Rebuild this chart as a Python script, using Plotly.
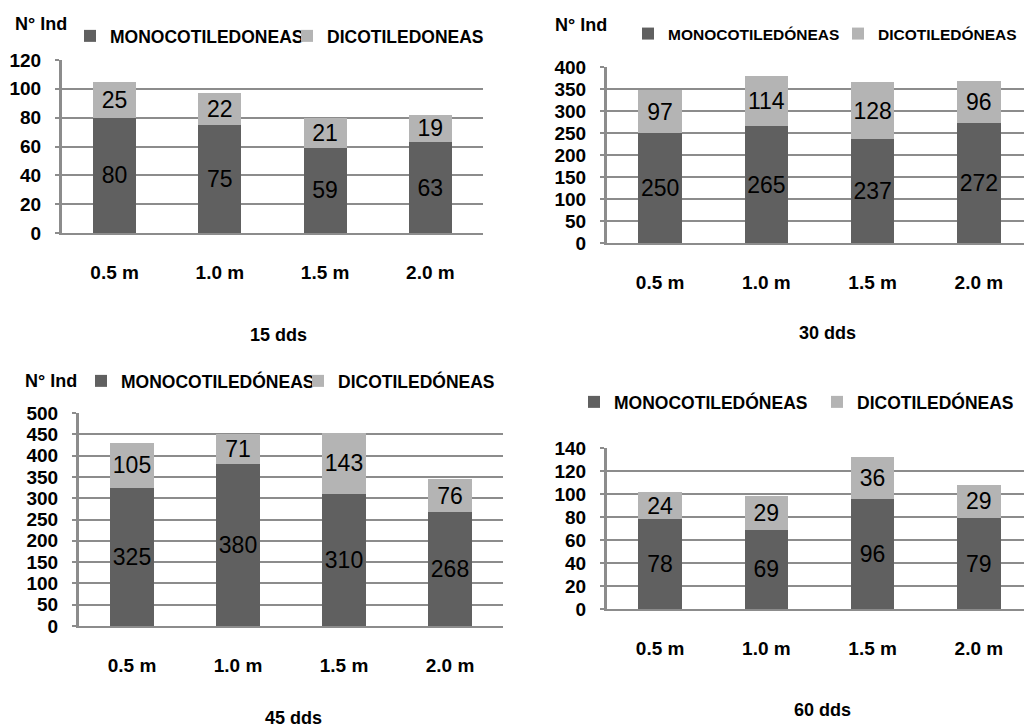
import plotly.graph_objects as go

categories = ["0.5 m", "1.0 m", "1.5 m", "2.0 m"]

mono_15 = [80, 75, 59, 63]
dico_15 = [25, 22, 21, 19]
mono_30 = [250, 265, 237, 272]
dico_30 = [97, 114, 128, 96]
mono_45 = [325, 380, 310, 268]
dico_45 = [105, 71, 143, 76]
mono_60 = [78, 69, 96, 79]
dico_60 = [24, 29, 36, 29]

panel_titles = ["15 dds", "30 dds", "45 dds", "60 dds"]
mono_names = ["MONOCOTILEDONEAS", "MONOCOTILEDÓNEAS", "MONOCOTILEDÓNEAS", "MONOCOTILEDÓNEAS"]
dico_names = ["DICOTILEDONEAS", "DICOTILEDÓNEAS", "DICOTILEDÓNEAS", "DICOTILEDÓNEAS"]
y_ranges = [[0, 120], [0, 400], [0, 500], [0, 140]]
y_dticks = [20, 50, 50, 20]

W, H = 1032, 726
OFF = 8  # page body margin offset
FONT = "Liberation Sans, Arial, sans-serif"
DARK = "#606060"
LIGHT = "#b4b4b4"
GRID = "#8c8c8c"

# plot areas in page pixels: (left, right, top, bottom)
boxes = [(62, 483, 60, 233), (607, 1032, 67, 243), (79, 503, 413, 626), (607, 1032, 448, 609)]
legend_pos = [(70, 36), (628, 34), (81, 381), (574, 402)]
legend_entry = [172, 165, 172, 198]
legend_font = [17.5, 15.5, 17.5, 17.5]
ylabel_pos = [(41, 24), (581, 25), (51, 381), None]
title_pos = [(278, 335), (827, 333), (293, 718), (822, 710)]

data = [(mono_15, dico_15), (mono_30, dico_30), (mono_45, dico_45), (mono_60, dico_60)]


def px_x(x):
    return (x - OFF) / W


def px_y(y):
    return 1 - (y - OFF) / H


fig = go.Figure()
layout = dict(
    width=W, height=H, margin=dict(l=0, r=0, t=0, b=0, autoexpand=False),
    paper_bgcolor="white", plot_bgcolor="white",
    barmode="stack", bargap=0.59, showlegend=True,
    uniformtext=dict(minsize=23, mode="show"),
    font=dict(family=FONT, color="black"),
)
annotations = []
for i, (mono, dico) in enumerate(data):
    n = "" if i == 0 else str(i + 1)
    xa, ya = "x" + n, "y" + n
    leg = "legend" + n
    for vals, name, col in [(mono, mono_names[i], DARK), (dico, dico_names[i], LIGHT)]:
        fig.add_trace(go.Bar(
            x=categories, y=vals, name=name, marker=dict(color=col, line=dict(width=0)),
            text=[str(v) for v in vals], textposition="inside", insidetextanchor="middle",
            textangle=0, insidetextfont=dict(family=FONT, size=23, color="black"),
            xaxis=xa, yaxis=ya, legend=leg, hoverinfo="x+y+name",
        ))
    l, r, t, b = boxes[i]
    layout["xaxis" + n] = dict(
        domain=[px_x(l), min(1.0, px_x(r))], anchor=ya, showline=True, linecolor=GRID, linewidth=2,
        showgrid=False, ticks="", ticklabelstandoff=21,
        tickfont=dict(family=FONT, size=19, color="black", weight="bold"),
    )
    layout["yaxis" + n] = dict(
        domain=[px_y(b), px_y(t)], anchor=xa, range=y_ranges[i], dtick=y_dticks[i],
        showline=True, linecolor=GRID, linewidth=3, showgrid=True, gridcolor=GRID, gridwidth=2,
        zeroline=False, ticks="outside", ticklen=4, tickwidth=2, tickcolor=GRID,
        ticklabelstandoff=10,
        tickfont=dict(family=FONT, size=19, color="black", weight="bold"),
    )
    lx, ly = legend_pos[i]
    layout[leg] = dict(
        x=px_x(lx), y=px_y(ly), xanchor="left", yanchor="middle", orientation="h",
        font=dict(family=FONT, size=legend_font[i], color="black", weight="bold"),
        bgcolor="rgba(0,0,0,0)", borderwidth=0, itemwidth=30,
        entrywidth=legend_entry[i], entrywidthmode="pixels", traceorder="normal",
    )
    if ylabel_pos[i]:
        px, py = ylabel_pos[i]
        annotations.append(dict(
            text="N° Ind", x=px_x(px), y=px_y(py), xref="paper", yref="paper",
            showarrow=False, xanchor="center", yanchor="middle",
            font=dict(family=FONT, size=18, color="black", weight="bold"),
        ))
    px, py = title_pos[i]
    annotations.append(dict(
        text=panel_titles[i], x=px_x(px), y=px_y(py), xref="paper", yref="paper",
        showarrow=False, xanchor="center", yanchor="middle",
        font=dict(family=FONT, size=18, color="black", weight="bold"),
    ))
layout["annotations"] = annotations
fig.update_layout(**layout)
fig.write_html("out.html")
